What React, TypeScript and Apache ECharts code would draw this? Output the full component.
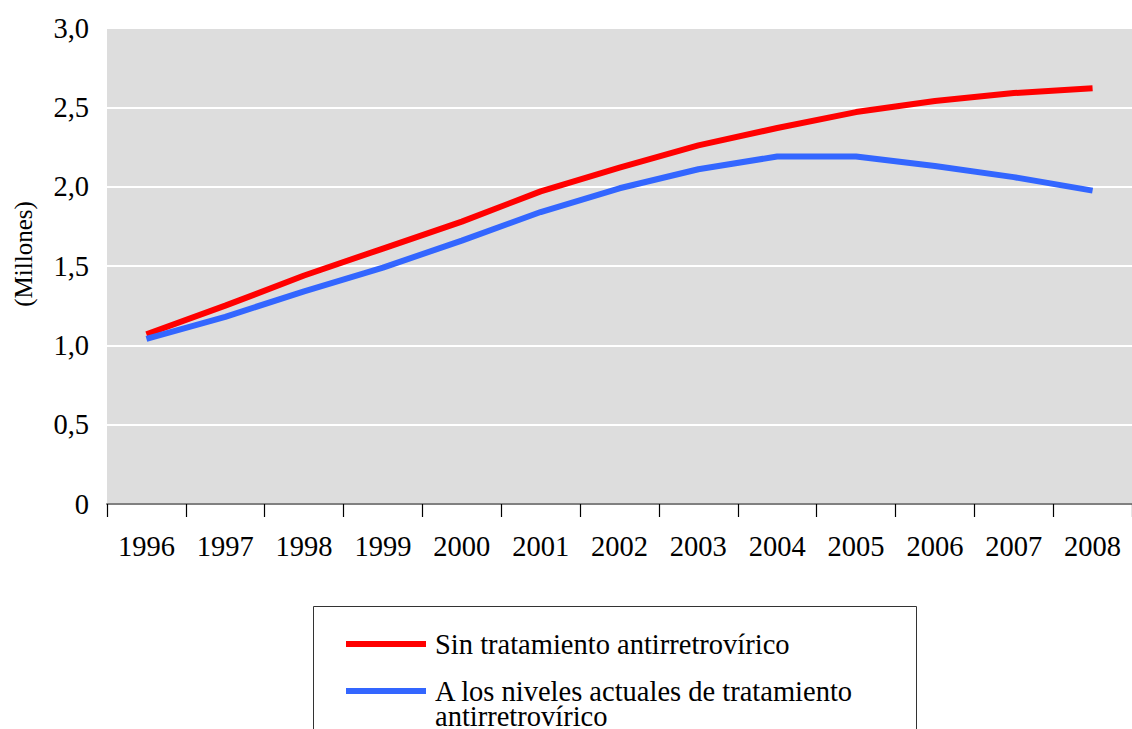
import React, { useEffect, useRef } from "react";
import * as echarts from "echarts";

const years = ["1996", "1997", "1998", "1999", "2000", "2001", "2002", "2003", "2004", "2005", "2006", "2007", "2008"];
const sinTratamiento = [1.07, 1.25, 1.44, 1.61, 1.78, 1.97, 2.12, 2.26, 2.37, 2.47, 2.54, 2.59, 2.62];
const nivelesActuales = [1.04, 1.18, 1.34, 1.49, 1.66, 1.84, 1.99, 2.11, 2.19, 2.19, 2.13, 2.06, 1.975];
const yTicks = { min: 0, max: 3, interval: 0.5 };

const nameRed = "Sin tratamiento antirretrovírico";
const nameBlue = "A los niveles actuales de tratamiento\nantirretrovírico";
const FONT = "Liberation Serif";

export default function App() {
  const ref = useRef<HTMLDivElement>(null);
  useEffect(() => {
    if (!ref.current) return;
    const chart = echarts.init(ref.current, null, { renderer: "svg" });
    chart.setOption({
      animation: false,
      backgroundColor: "#ffffff",
      textStyle: { fontFamily: FONT },
      grid: {
        left: 107,
        right: -10,
        top: 28,
        bottom: 225,
        show: true,
        backgroundColor: "#dddddd",
        borderWidth: 0,
      },
      xAxis: {
        type: "category",
        data: years,
        boundaryGap: true,
        axisLine: { show: true, lineStyle: { color: "#808080", width: 2 } },
        axisTick: { show: true, length: 13, lineStyle: { color: "#000", width: 1.2 } },
        axisLabel: { color: "#000", fontFamily: FONT, fontSize: 28.5, margin: 28 },
        splitLine: { show: false },
      },
      yAxis: {
        type: "value",
        min: yTicks.min,
        max: yTicks.max,
        interval: yTicks.interval,
        axisLine: { show: false },
        axisTick: { show: false },
        axisLabel: {
          color: "#000",
          fontFamily: FONT,
          fontSize: 28.5,
          margin: 18,
          formatter: (v: number) => (v === 0 ? "0" : v.toFixed(1).replace(".", ",")),
        },
        splitLine: { show: true, lineStyle: { color: "#ffffff", width: 2 } },
      },
      legend: {
        orient: "vertical",
        left: 346,
        top: 629.5,
        height: 200,
        width: 600,
        padding: 0,
        itemWidth: 80,
        itemHeight: 6,
        itemGap: -7,
        icon: "rect",
        formatter: (name: string) => (name === nameBlue ? "\n" + name : name),
        textStyle: { color: "#000", fontFamily: FONT, fontSize: 28.5, lineHeight: 25, padding: [0, 0, 0, 4] },
        data: [{ name: nameRed }, { name: nameBlue }],
      },
      graphic: [
        {
          type: "rect",
          shape: { x: 313.5, y: 606.5, width: 603, height: 140 },
          style: { fill: "none", stroke: "#333", lineWidth: 1 },
          silent: true,
        },
        {
          type: "text",
          x: 23,
          y: 254,
          rotation: Math.PI / 2,
          style: {
            text: "(Millones)",
            fontFamily: FONT,
            fontSize: 25,
            fill: "#000",
            textAlign: "center",
            textVerticalAlign: "middle",
          },
        },
      ],
      series: [
        {
          name: nameRed,
          type: "line",
          data: sinTratamiento,
          symbol: "none",
          itemStyle: { color: "#ff0000" },
          lineStyle: { color: "#ff0000", width: 6 },
        },
        {
          name: nameBlue,
          type: "line",
          data: nivelesActuales,
          symbol: "none",
          itemStyle: { color: "#3366ff" },
          lineStyle: { color: "#3366ff", width: 6 },
        },
      ],
    });
    return () => chart.dispose();
  }, []);
  return (
    <div
      ref={ref}
      style={{ position: "fixed", left: 0, top: 0, width: 1132, height: 729 }}
    />
  );
}
